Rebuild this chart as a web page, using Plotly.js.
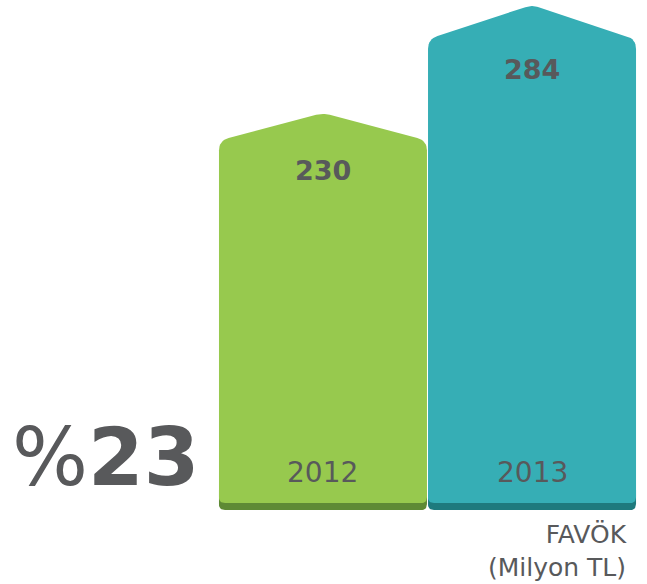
<!DOCTYPE html>
<html>
<head>
<meta charset="utf-8">
<script src="https://cdn.plot.ly/plotly-3.0.1.min.js"></script>
<style>html,body{margin:0;padding:0;background:#fff;}#chart{width:647px;height:584px;}</style>
</head>
<body>
<div id="chart"></div>
<script>
// ---- data ----
const years = ['2012', '2013'];
const values = [230, 284];
const growthLabel = '%23';
const unitLine1 = 'FAVÖK';
const unitLine2 = '(Milyon TL)';

// ---- style ----
const W = 647, H = 584;
const bodyColors = ['#97c94e', '#36aeb5'];
const footColors = ['#5e8a35', '#1e7a7d'];
const textColor = '#58595b';
const xRange = [-1.545, 1.55];
const yRange = [-5.5, 286.5];
const BASE = 31.5;        // bottom of the bars (axis units)
const FOOT = 3.5;         // dark strip height
const ROOF_RATIO = 0.06;  // roof height relative to value
const HALF = 0.4975;

const sx = W / (xRange[1] - xRange[0]);
const sy = H / (yRange[1] - yRange[0]);
const toPx = (x, y) => [(x - xRange[0]) * sx, (yRange[1] - y) * sy];
const toData = (px, py) => [px / sx + xRange[0], yRange[1] - py / sy];

function roundPoly(pts, radii) {
  const p = pts.map(q => toPx(q[0], q[1]));
  const n = p.length, xs = [], ys = [];
  for (let i = 0; i < n; i++) {
    const v = p[i], a = p[(i - 1 + n) % n], b = p[(i + 1) % n];
    const la = Math.hypot(a[0] - v[0], a[1] - v[1]);
    const lb = Math.hypot(b[0] - v[0], b[1] - v[1]);
    const r = Math.min(radii[i], la / 2, lb / 2);
    const s = [v[0] + (a[0] - v[0]) / la * r, v[1] + (a[1] - v[1]) / la * r];
    const e = [v[0] + (b[0] - v[0]) / lb * r, v[1] + (b[1] - v[1]) / lb * r];
    const N = r > 0 ? 8 : 1;
    for (let k = 0; k <= N; k++) {
      const t = k / N;
      const px = (1 - t) * (1 - t) * s[0] + 2 * (1 - t) * t * v[0] + t * t * e[0];
      const py = (1 - t) * (1 - t) * s[1] + 2 * (1 - t) * t * v[1] + t * t * e[1];
      const d = toData(px, py);
      xs.push(d[0]); ys.push(d[1]);
    }
  }
  xs.push(xs[0]); ys.push(ys[0]);
  return {x: xs, y: ys};
}

const traces = [];
years.forEach((yr, i) => {
  const x0 = i - HALF, x1 = i + HALF;
  const foot = roundPoly([[x0, BASE], [x0, BASE + 10], [x1, BASE + 10], [x1, BASE]], [6, 0, 0, 6]);
  traces.push({type: 'scatter', mode: 'lines', x: foot.x, y: foot.y, fill: 'toself',
    fillcolor: footColors[i], line: {width: 0, color: footColors[i]}, hoverinfo: 'skip', showlegend: false});
});
years.forEach((yr, i) => {
  const x0 = i - HALF, x1 = i + HALF, v = values[i];
  const sh = v - v * ROOF_RATIO, b = BASE + FOOT;
  const body = roundPoly([[x0, b], [x0, sh], [i, v], [x1, sh], [x1, b]], [6, 10, 7, 10, 6]);
  traces.push({type: 'scatter', mode: 'lines', x: body.x, y: body.y, fill: 'toself',
    fillcolor: bodyColors[i], line: {width: 0, color: bodyColors[i]}, hoverinfo: 'skip', showlegend: false});
});

const annotations = [];
years.forEach((yr, i) => {
  const v = values[i];
  annotations.push({x: i, y: v - v * ROOF_RATIO, xref: 'x', yref: 'y', yanchor: 'middle', yshift: -30,
    text: '<b>' + v + '</b>', showarrow: false,
    font: {family: 'DejaVu Sans', size: 27, color: textColor}});
  annotations.push({x: i, y: BASE + 19, xref: 'x', yref: 'y', yanchor: 'middle',
    text: yr, showarrow: false,
    font: {family: 'DejaVu Sans', size: 28, color: textColor}});
});
annotations.push({x: 201 / W, y: 1 - 457 / H, xref: 'paper', yref: 'paper', xanchor: 'right', yanchor: 'middle',
  text: growthLabel.slice(0, 1) + '<b>' + growthLabel.slice(1) + '</b>', showarrow: false,
  font: {family: 'DejaVu Sans', size: 80, color: textColor}});
annotations.push({x: 629 / W, y: 1 - 551 / H, xref: 'paper', yref: 'paper', xanchor: 'right', yanchor: 'middle',
  align: 'right', text: unitLine1 + '<br>' + unitLine2, showarrow: false,
  font: {family: 'DejaVu Sans', size: 25, color: textColor}});

const layout = {
  width: W, height: H,
  margin: {l: 0, r: 0, t: 0, b: 0, pad: 0},
  paper_bgcolor: '#ffffff', plot_bgcolor: '#ffffff',
  xaxis: {range: xRange, visible: false, fixedrange: true},
  yaxis: {range: yRange, visible: false, fixedrange: true},
  showlegend: false,
  annotations: annotations
};
Plotly.newPlot('chart', traces, layout, {displayModeBar: false, staticPlot: true});
</script>
</body>
</html>
